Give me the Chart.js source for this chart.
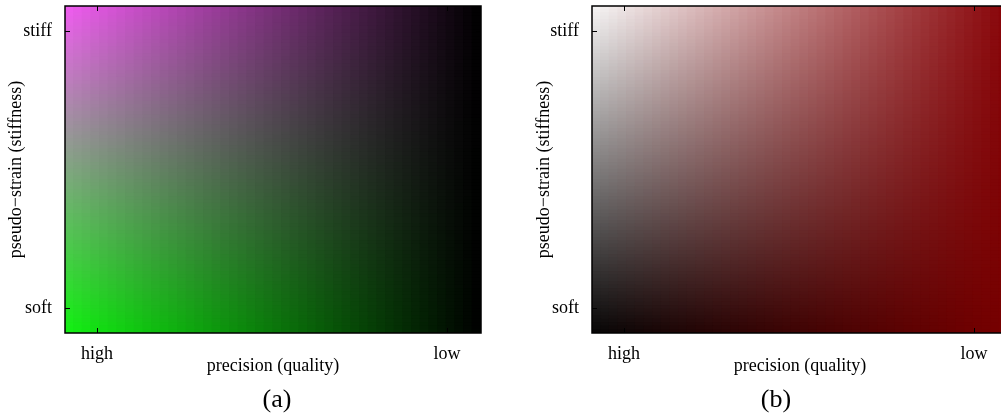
<!DOCTYPE html>
<html>
<head>
<meta charset="utf-8">
<script src="https://cdn.jsdelivr.net/npm/chart.js@4.4.1/dist/chart.umd.min.js"></script>
<style>
  html, body { margin: 0; padding: 0; background: #fff; overflow: hidden; width: 1001px; height: 416px; }
  #wrapA { position: absolute; left: 0; top: 0; width: 500px; height: 416px; }
  #wrapB { position: absolute; left: 520px; top: 0; width: 488px; height: 416px; }
</style>
</head>
<body>
<div id="wrapA"><canvas id="chartA" width="500" height="416"></canvas></div>
<div id="wrapB"><canvas id="chartB" width="488" height="416"></canvas></div>
<script>
// Grid resolution of the two colour maps (columns along precision, rows along stiffness)
const precisionSteps = 48;
const stiffnessSteps = 96;

// Axis ticks (axis fractions 0..1: left = high precision, bottom = soft)
const xTickValues = [0.077, 0.918];
const xTickLabels = ['high', 'low'];
const yTickValues = [0.077, 0.924];
const yTickLabels = ['soft', 'stiff'];

// Corner colours (RGB) of map (a)
const mapAHighStiff = [242, 92, 242];
const mapAHighSoft  = [18, 242, 18];
const mapALowStiff  = [0, 0, 0];
const mapALowSoft   = [0, 0, 0];

// Corner colours (RGB) of map (b)
const mapBHighStiff = [247, 247, 247];
const mapBHighSoft  = [6, 6, 6];
const mapBLowStiff  = [136, 4, 8];
const mapBLowSoft   = [120, 0, 0];

const serif = "'Liberation Serif', 'Times New Roman', serif";
const labelFont = { family: serif, size: 18 };

function mix(a, b, t) {
  return a.map((v, k) => v + (b[k] - v) * t);
}

// colour of a cell at precision fraction p (0 = high) and stiffness fraction s (0 = soft)
function cellColour(c, p, s) {
  const left = mix(c.highSoft, c.highStiff, s);
  const right = mix(c.lowSoft, c.lowStiff, s);
  const rgb = mix(left, right, p).map(v => Math.round(v));
  return `rgb(${rgb[0]},${rgb[1]},${rgb[2]})`;
}

// one floating-bar dataset per row of cells
function buildDatasets(c) {
  const sets = [];
  for (let r = 0; r < stiffnessSteps; r++) {
    const s0 = r / stiffnessSteps, s1 = (r + 1) / stiffnessSteps, sc = (r + 0.5) / stiffnessSteps;
    const data = [], colours = [];
    for (let k = 0; k < precisionSteps; k++) {
      const pc = (k + 0.5) / precisionSteps;
      data.push({ x: pc, y: [s0, s1] });
      colours.push(cellColour(c, pc, sc));
    }
    sets.push({ data, backgroundColor: colours });
  }
  return sets;
}

// axis frame with short inward tick marks on all four sides
const framePlugin = {
  id: 'frame',
  afterDatasetsDraw(chart) {
    const { ctx, chartArea: a, scales } = chart;
    ctx.save();
    ctx.strokeStyle = '#000';
    ctx.lineWidth = 1.5;
    ctx.strokeRect(a.left, a.top, a.right - a.left, a.bottom - a.top);
    ctx.lineWidth = 1;
    const len = 5;
    ctx.beginPath();
    scales.x.ticks.forEach(t => {
      const px = Math.round(scales.x.getPixelForValue(t.value)) + 0.5;
      ctx.moveTo(px, a.bottom); ctx.lineTo(px, a.bottom - len);
      ctx.moveTo(px, a.top); ctx.lineTo(px, a.top + len);
    });
    scales.y.ticks.forEach(t => {
      const py = Math.round(scales.y.getPixelForValue(t.value)) + 0.5;
      ctx.moveTo(a.left, py); ctx.lineTo(a.left + len, py);
      ctx.moveTo(a.right, py); ctx.lineTo(a.right - len, py);
    });
    ctx.stroke();
    ctx.restore();
  }
};

// panel caption under the axis title
const captionPlugin = {
  id: 'caption',
  afterDraw(chart, args, opts) {
    const { ctx, chartArea: a } = chart;
    ctx.save();
    ctx.font = `26px ${serif}`;
    ctx.fillStyle = '#000';
    ctx.textAlign = 'center';
    ctx.textBaseline = 'middle';
    ctx.fillText(opts.text, (a.left + a.right) / 2 + opts.shift, a.bottom + opts.drop);
    ctx.restore();
  }
};

function makeChart(id, corners, opt) {
  return new Chart(document.getElementById(id), {
    type: 'bar',
    data: { datasets: buildDatasets(corners) },
    plugins: [framePlugin, captionPlugin],
    options: {
      responsive: false,
      animation: false,
      devicePixelRatio: 1,
      events: [],
      layout: { padding: { left: 0, right: opt.padRight, top: 6, bottom: 39 } },
      datasets: {
        bar: { grouped: false, barPercentage: 1, categoryPercentage: 1, borderWidth: 0, inflateAmount: 0.6 }
      },
      plugins: {
        legend: { display: false },
        tooltip: { enabled: false },
        caption: { text: opt.caption, shift: opt.captionShift, drop: 67 }
      },
      scales: {
        x: {
          type: 'linear', min: 0, max: 1, offset: false,
          grid: { display: false }, border: { display: false },
          afterBuildTicks: s => { s.ticks = xTickValues.map(v => ({ value: v })); },
          ticks: { padding: 2, font: labelFont, color: '#000', maxRotation: 0, autoSkip: false,
                   callback: (v, i) => xTickLabels[i] },
          title: { display: true, text: 'precision (quality)', font: labelFont, color: '#000',
                   padding: { top: 0, bottom: 0 } },
          afterFit: s => { s.height = 44; s.paddingLeft = 0; s.paddingRight = 0; }
        },
        y: {
          type: 'linear', min: 0, max: 1,
          grid: { display: false }, border: { display: false },
          afterBuildTicks: s => { s.ticks = yTickValues.map(v => ({ value: v })); },
          ticks: { padding: 5, font: labelFont, color: '#000', autoSkip: false,
                   callback: (v, i) => yTickLabels[i] },
          title: { display: true, text: 'pseudo\u2212strain (stiffness)', font: labelFont, color: '#000',
                   padding: { top: opt.yTitlePad, bottom: 0 } },
          afterFit: s => { s.width = opt.yAxisWidth; s.paddingTop = 0; s.paddingBottom = 0; }
        }
      }
    }
  });
}

const cornersA = { highStiff: mapAHighStiff, highSoft: mapAHighSoft, lowStiff: mapALowStiff, lowSoft: mapALowSoft };
const cornersB = { highStiff: mapBHighStiff, highSoft: mapBHighSoft, lowStiff: mapBLowStiff, lowSoft: mapBLowSoft };

makeChart('chartA', cornersA, { padRight: 19, yAxisWidth: 65, yTitlePad: 5, caption: '(a)', captionShift: 4 });
makeChart('chartB', cornersB, { padRight: 0, yAxisWidth: 72, yTitlePad: 13, caption: '(b)', captionShift: -24 });
</script>
</body>
</html>
